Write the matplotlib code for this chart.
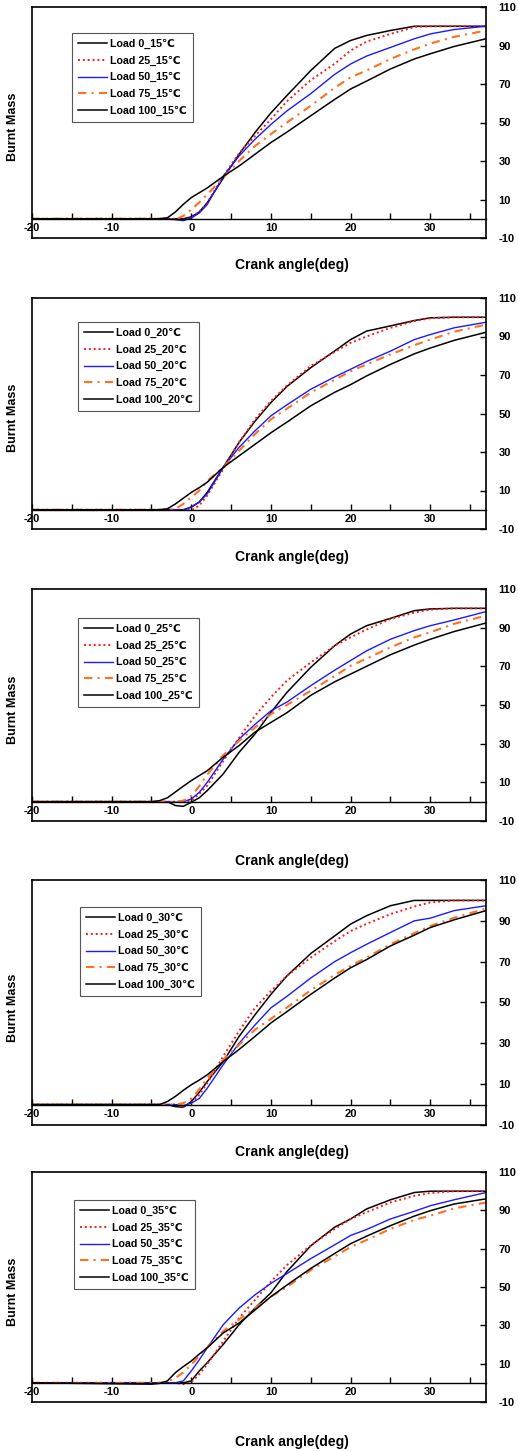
import numpy as np
import matplotlib
matplotlib.use("Agg")
import matplotlib.pyplot as plt

plt.rcParams['font.family'] = ['Liberation Sans', 'DejaVu Sans']
plt.rcParams['font.weight'] = 'bold'
plt.rcParams['axes.unicode_minus'] = False

# crank angle grid (deg) shared by all curves
X = [-20, -5, -4, -3, -2, -1, 0, 1, 2, 4, 6, 8, 10, 12, 15, 18, 20, 22, 25, 28, 30, 33, 37]

LOADS = [0, 25, 50, 75, 100]
TEMPS = [15, 20, 25, 30, 35]

# burnt mass (%)
T15_L0 = [0, 0, 0, 0, 0, 0, 1, 3.5, 8.3, 21, 33.5, 44.8, 55, 64, 77, 88.5, 92.6, 95.2, 97.8, 100, 100, 100, 100]
T15_L25 = [0, 0, 0, 0, 0, -0.3, 0.4, 3.5, 8.3, 22, 34, 43, 51.7, 61, 72, 80.5, 87.4, 92, 96, 99.6, 100, 100, 100]
T15_L50 = [0, 0, 0, 0, -0.5, -1, 0.4, 3, 7.4, 22, 32.6, 41.3, 49, 56, 65, 75, 80.4, 84.5, 89, 93.5, 96, 98.3, 100]
T15_L75 = [0, 0, 0, 0, -0.5, 1.5, 4.8, 8.5, 12.6, 21.3, 30, 37.8, 44, 50, 58.7, 68, 73.5, 77, 83, 88, 91, 94.5, 97.8]
T15_L100 = [0, 0, 0, 0.5, 3.5, 7.5, 11, 13.5, 16, 22, 27.4, 33.5, 39.6, 45, 53.5, 62, 67.4, 71.5, 77.8, 83, 85.7, 89.5, 93.5]

T20_L0 = [0, 0, 0, 0, 0, 0, 1.4, 4, 9, 22, 35, 46, 55.7, 64, 73.8, 82.5, 88.4, 92.8, 95.5, 98.3, 99.7, 100, 100]
T20_L25 = [0, 0, 0, 0, 0, 0, -0.3, 2.2, 7.4, 21, 35, 47, 56.5, 64.5, 74.7, 82, 86.7, 90, 94.5, 98, 99.5, 100, 100]
T20_L50 = [0, 0, 0, 0, 0, -0.3, 1.4, 4, 8.3, 22, 32.4, 41, 48.8, 54.5, 62.6, 69, 73, 77, 82.4, 88.4, 91, 94.5, 97.4]
T20_L75 = [0, 0, 0, 0, 0.5, 3, 6.5, 10, 15, 22, 30.7, 39.3, 47, 52.5, 60.9, 67.5, 72, 75.5, 80.7, 85.5, 88.4, 92.5, 96.2]
T20_L100 = [0, 0, 0, 0.5, 3, 6, 9, 11.5, 14.3, 22, 28, 34, 40, 45.5, 54, 61, 65, 69.5, 75.5, 81, 84, 88, 92.2]

T25_L0 = [0, 0, 0, 0, -2, -2.4, -0.3, 2, 5.7, 14.3, 25.5, 35, 46.2, 56.5, 69.5, 80.7, 86.7, 91, 94.8, 98.8, 99.7, 100, 100]
T25_L25 = [0, 0, 0, 0, 0, 0, 0.5, 4, 8.3, 21, 33, 44.5, 54, 62.6, 72, 80.7, 85, 89, 94.5, 97.8, 99.3, 100, 100]
T25_L50 = [0, 0, 0, 0, -0.3, 0, 1.4, 4.8, 10, 22, 32.4, 40, 47, 51.5, 60, 68, 73, 78, 84, 88.5, 91, 94, 98.3]
T25_L75 = [0, 0, 0, 0, 0, 0.5, 3, 8, 14, 24, 31.5, 38.4, 45.3, 50, 57.4, 65, 70.3, 74, 79.8, 85, 87.6, 92, 96.2]
T25_L100 = [0, 0, 0.5, 2, 5, 8, 10.9, 13.5, 16, 23, 29, 36, 41, 46, 55, 62, 66, 70, 76, 81, 84, 88, 92.4]

T30_L0 = [0, 0, 0, 0, -1, -1.3, 1.5, 6, 11.3, 21, 33.4, 44, 54, 63, 74, 82.6, 88.4, 92.5, 97.4, 100, 100, 100, 100]
T30_L25 = [0, 0, 0, 0, 0, -1, 0.7, 4.8, 10.5, 23.6, 36, 47.4, 55.6, 63, 72, 80, 85, 88.5, 93.3, 97, 99, 100, 100]
T30_L50 = [0, 0, 0, 0, 0, -0.5, 0.7, 3, 8, 19.5, 30, 39, 47.4, 53, 62, 70, 74.4, 78.5, 84.3, 90, 91.3, 95, 97.4]
T30_L75 = [0, 0, 0, 0, 0, 0.7, 3, 7.5, 13, 22, 29.3, 36.7, 42, 47.5, 56, 63.5, 68, 72, 78.5, 84, 87.5, 91.5, 96]
T30_L100 = [0, 0, 0, 1.5, 4, 7, 9.7, 12, 14.6, 21, 27, 33.4, 40, 45.5, 54, 62, 67, 71, 77.7, 83, 86.7, 90.5, 95]

T35_L0 = [0, 0, 0, 0, 0, 0, 1, 6.2, 10.5, 20, 30.3, 39, 47, 58, 71.5, 81.2, 85.5, 90.7, 95.5, 99.3, 100, 100, 100]
T35_L25 = [0, 0, 0, 0, 0, -0.7, 0.2, 4.5, 9.7, 21.7, 33.8, 43.3, 52.8, 61.4, 71.7, 80.3, 85.5, 89, 94.1, 97.6, 99, 100, 100]
T35_L50 = [0, 0, 0, 0, 0, 1, 6.2, 12, 18.3, 30.3, 39, 45.9, 51.9, 57, 64.8, 72, 76.9, 80, 85.5, 89.5, 92.4, 95.5, 99.3]
T35_L75 = [0, 0, 0, 0.5, 2.5, 5.5, 9.5, 14, 18.5, 27, 33, 39, 45, 50, 58.8, 66, 70.9, 74.5, 80.3, 85, 87.2, 91, 94.1]
T35_L100 = [0, -0.7, -0.3, 1, 5.3, 8.5, 11.4, 15, 18.3, 26, 31.2, 38, 45, 51, 59.7, 67.5, 72.6, 76.5, 82, 87, 89.8, 93.3, 96]

DATA = {
    15: [T15_L0, T15_L25, T15_L50, T15_L75, T15_L100],
    20: [T20_L0, T20_L25, T20_L50, T20_L75, T20_L100],
    25: [T25_L0, T25_L25, T25_L50, T25_L75, T25_L100],
    30: [T30_L0, T30_L25, T30_L50, T30_L75, T30_L100],
    35: [T35_L0, T35_L25, T35_L50, T35_L75, T35_L100],
}

STYLES = [
    dict(color="black", lw=1.1, ls="-"),
    dict(color="#ff1a1a", lw=1.4, ls=(0, (1, 1.5))),
    dict(color="#1a1aff", lw=1.0, ls="-"),
    dict(color="#ff7020", lw=1.5, ls=(0, (4, 2.5, 1, 2.5))),
    dict(color="black", lw=1.1, ls="-"),
]

W, H = 518, 1451
# pixel layout: (top, bottom, legend left, legend top, xlabel centre y)
LAYOUT = {
    15: (7, 238, 72, 33, 265),
    20: (298, 529, 78, 322, 557),
    25: (589, 821, 78, 618, 861),
    30: (880, 1125, 80, 907, 1152),
    35: (1172, 1402, 74, 1200, 1442),
}
AX_LEFT, AX_RIGHT = 32, 486

fig = plt.figure(figsize=(W / 100, H / 100), dpi=100)

for temp in TEMPS:
    top, bot, lg_x, lg_y, xl_y = LAYOUT[temp]
    ax = fig.add_axes([AX_LEFT / W, 1 - bot / H,
                       (AX_RIGHT - AX_LEFT) / W, (bot - top) / H])
    for load, y, st in zip(LOADS, DATA[temp], STYLES):
        ax.plot(X, y, label=f"Load {load}_{temp}\u2103", **st)

    ax.set_xlim(-20, 37)
    ax.set_ylim(-10, 110)
    for s in ax.spines.values():
        s.set_linewidth(1.2)
    # x axis drawn on the zero line, frame closed at -10
    ax.spines["bottom"].set_position(("data", 0))
    ax.spines["bottom"].set_linewidth(1.0)
    ax.axhline(-10, color="black", lw=1.2, clip_on=False)
    ax.set_xticks([-20, -10, 0, 10, 20, 30])
    ax.set_xticks([-15, -5, 5, 15, 25, 35], minor=True)
    ax.tick_params(axis="x", which="both", direction="in", length=4,
                   width=1.0, pad=3, labelsize=8)

    ax.yaxis.tick_right()
    ax.set_yticks([-10, 10, 30, 50, 70, 90, 110])
    ax.tick_params(axis="y", direction="in", length=4, width=1.0,
                   pad=9, labelsize=8)
    ax.set_ylabel("Burnt Mass", fontsize=9, fontweight="bold")
    ax.yaxis.set_label_position("left")
    ax.yaxis.set_label_coords(-0.028, 0.48)

    leg = ax.legend(loc="upper left",
                    bbox_to_anchor=(lg_x / W, 1 - lg_y / H),
                    bbox_transform=fig.transFigure, borderaxespad=0,
                    fontsize=7.7, frameon=True, fancybox=False,
                    framealpha=1, edgecolor="#555555",
                    handlelength=2.7, handletextpad=0.3,
                    labelspacing=0.62, borderpad=0.55)
    leg.get_frame().set_linewidth(0.8)

    fig.text(292 / W, 1 - xl_y / H, "Crank angle(deg)", ha="center",
             va="center", fontsize=10, fontweight="bold")

fig.savefig("out.png", dpi=100)
